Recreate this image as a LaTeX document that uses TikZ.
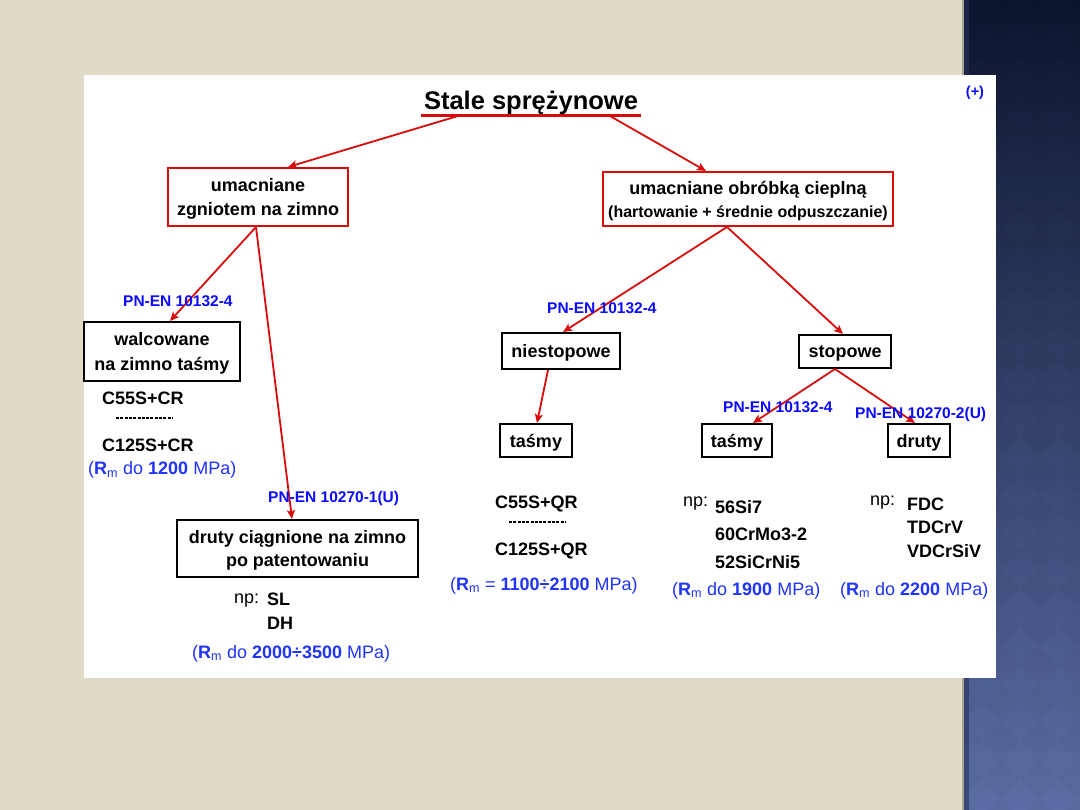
\documentclass[tikz,border=0pt]{standalone}
\usepackage{fontspec}
\setmainfont{Liberation Sans}
\usetikzlibrary{arrows.meta}
\definecolor{bgbeige}{RGB}{224,219,199}
\definecolor{myred}{RGB}{215,12,12}
\definecolor{pnblue}{RGB}{12,12,250}
\definecolor{rmblue}{RGB}{32,52,245}
\definecolor{stripTop}{RGB}{13,20,46}
\definecolor{stripBot}{RGB}{90,110,165}
\definecolor{stripEdge}{RGB}{170,166,150}
\definecolor{stripShadow}{RGB}{40,50,90}
\tikzset{
  boxfont/.style={font=\fontsize{18}{25}\selectfont\bfseries},
  rbox/.style={draw=myred, line width=2pt, inner sep=0pt, align=center, text depth=-3pt, boxfont},
  kbox/.style={draw=black, line width=2pt, inner sep=0pt, align=center, text depth=-3pt, boxfont},
  arr/.style={draw=myred, line width=1.8pt, -{Stealth[length=9pt,width=8pt,inset=2pt]}},
  pn/.style={text=pnblue, font=\fontsize{15.5}{18}\selectfont\bfseries, inner sep=0pt, anchor=base west},
  grade/.style={font=\fontsize{18}{22}\selectfont\bfseries, inner sep=0pt, anchor=base west},
  nplbl/.style={font=\fontsize{18}{22}\selectfont, inner sep=0pt, anchor=base west},
  rm/.style={text=rmblue, font=\fontsize{18}{22}\selectfont, inner sep=0pt, anchor=base west},
  dots/.style={line width=2pt, dash pattern=on 3pt off 1.3pt}
}
\newcommand{\Rm}{\textbf{R}\textsubscript{m}}
\begin{document}
\begin{tikzpicture}[x=1pt,y=-1pt]
\useasboundingbox (0,0) rectangle (1080,810);
% background
\fill[bgbeige] (0,0) rectangle (1080,810);
\shade[top color=stripTop, bottom color=stripBot] (963,0) rectangle (1080,810);
\begin{scope}
  \clip (963,0) rectangle (1080,810);
  \foreach \i in {0,...,3}{
    \foreach \j in {0,...,22}{
      \fill[black, opacity=0.025] (963+38*\i,38*\j) -- ++(19,19) -- ++(-19,19) -- ++(-19,-19) -- cycle;
    }
  }
\end{scope}
\fill[stripShadow, opacity=0.6] (964,0) rectangle (969,810);
\draw[stripEdge, line width=2.5pt] (963,0) -- (963,810);
\fill[white] (84,75) rectangle (996,678);

% title
\node[font=\fontsize{25.5}{30}\selectfont\bfseries, inner sep=0pt, anchor=base] (title) at (531,110) {Stale sprężynowe};
\coordinate (ul) at (531,116);
\draw[myred, line width=3pt] ([xshift=-110pt]ul) -- ([xshift=110pt]ul);
\node[text=pnblue, font=\fontsize{14.5}{17}\selectfont\bfseries, inner sep=0pt, anchor=base] (plus) at (975,97) {(+)};

% boxes
\node[rbox, minimum width=180pt, minimum height=58pt] (lbox) at (258,197) {umacniane\\[-1pt]zgniotem na zimno};
\node[rbox, minimum width=290pt, minimum height=54pt] (rbox) at (748,199) {umacniane obróbką cieplną\\[-2pt]{\fontsize{16}{20}\selectfont (hartowanie + średnie odpuszczanie)}};
\node[kbox, minimum width=156pt, minimum height=59pt] (walc) at (162,351.5) {walcowane\\na zimno taśmy};
\node[kbox, minimum width=241pt, minimum height=57pt] (drut) at (297.5,548.5) {druty ciągnione na zimno\\[-2pt]po patentowaniu};
\node[kbox, minimum width=118pt, minimum height=36pt] (nies) at (561,351) {niestopowe};
\node[kbox, minimum width=72pt, minimum height=33pt] (tasm1) at (536,440.5) {taśmy};
\node[kbox, minimum width=92pt, minimum height=33pt] (stop) at (845,351.5) {stopowe};
\node[kbox, minimum width=70pt, minimum height=33pt] (tasm2) at (737,440.5) {taśmy};
\node[kbox, minimum width=62pt, minimum height=33pt] (druty) at (919,440.5) {druty};

% arrows
\draw[arr] ([xshift=-73pt]ul) -- ([xshift=30pt]lbox.north);
\draw[arr] ([xshift=79pt]ul) -- ([xshift=-42pt]rbox.north);
\draw[arr] ([xshift=-2pt]lbox.south) -- ([xshift=8pt]walc.north);
\draw[arr] ([xshift=-2pt]lbox.south) -- ([xshift=-5.5pt]drut.north);
\draw[arr] ([xshift=-21pt]rbox.south) -- ([xshift=2pt]nies.north);
\draw[arr] ([xshift=-21pt]rbox.south) -- ([xshift=-2pt]stop.north);
\draw[arr] ([xshift=-13pt]nies.south) -- ([xshift=1pt]tasm1.north);
\draw[arr] ([xshift=-10pt]stop.south) -- ([xshift=16pt]tasm2.north);
\draw[arr] ([xshift=-10pt]stop.south) -- ([xshift=-4pt]druty.north);

% standard labels
\node[pn] (pn1) at (123,307) {PN-EN 10132-4};
\node[pn] (pn2) at (268,502) {PN-EN 10270-1(U)};
\node[pn] (pn3) at (547,314) {PN-EN 10132-4};
\node[pn] (pn4) at (723,413) {PN-EN 10132-4};
\node[pn] (pn5) at (855,419) {PN-EN 10270-2(U)};

% left column
\node[grade] (g1) at (102,405) {C55S+CR};
\coordinate (d1a) at (116,418);
\coordinate (d1b) at (172,418);
\draw[dots] (d1a) -- (d1b);
\node[grade] (g2) at (102,452) {C125S+CR};
\node[rm] (rm1) at (88,475) {(\Rm{} do \textbf{1200} MPa)};

% druty list
\node[nplbl] (np1) at (234,603) {np:};
\node[grade] (g3) at (267,605) {SL};
\node[grade] (g4) at (267,629) {DH};
\node[rm] (rm2) at (192,658) {(\Rm{} do \textbf{2000÷3500} MPa)};

% middle column
\node[grade] (g5) at (495,508) {C55S+QR};
\coordinate (d2a) at (509,522);
\coordinate (d2b) at (565,522);
\draw[dots] (d2a) -- (d2b);
\node[grade] (g6) at (495,555) {C125S+QR};
\node[rm] (rm3) at (450,590) {(\Rm{} = \textbf{1100÷2100} MPa)};

% stopowe tasmy
\node[nplbl] (np2) at (683,507) {np:};
\node[grade] (g7) at (715,513) {56Si7};
\node[grade] (g8) at (715,540) {60CrMo3-2};
\node[grade] (g9) at (715,568) {52SiCrNi5};
\node[rm] (rm4) at (672,595) {(\Rm{} do \textbf{1900} MPa)};

% stopowe druty
\node[nplbl] (np3) at (870,505) {np:};
\node[grade] (g10) at (907,510) {FDC};
\node[grade] (g11) at (907,533) {TDCrV};
\node[grade] (g12) at (907,557) {VDCrSiV};
\node[rm] (rm5) at (840,595) {(\Rm{} do \textbf{2200} MPa)};
\end{tikzpicture}
\end{document}
